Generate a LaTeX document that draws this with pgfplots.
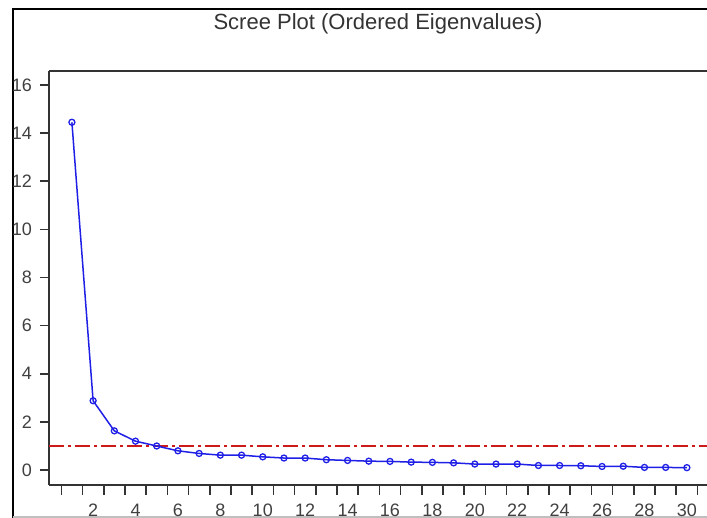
\documentclass[border=0pt]{standalone}
\usepackage{pgfplots}
\pgfplotsset{compat=1.18}
\usepackage{fontspec}
\setmainfont{Liberation Sans}
\definecolor{evBlue}{HTML}{1F1FE6}
\definecolor{evRed}{HTML}{CC1A1A}
\definecolor{axGray}{HTML}{333333}
\definecolor{lblGray}{HTML}{404040}

\begin{document}
\begin{tikzpicture}[x=0.5pt,y=0.5pt]
  \useasboundingbox (0,0) rectangle (707,518);
  % window frame
  \draw[line width=0.9pt, black] (13,0) -- (13,509) -- (707,509);
  \draw[line width=0.6pt, black!25] (13,1) -- (707,1);
  \begin{axis}[
    at={(49pt*0.5,33pt*0.5)}, anchor=south west,
    width=329pt, height=207pt, scale only axis,
    xmin=-0.08, xmax=30.95, ymin=-0.62, ymax=16.58,
    axis line style={axGray, line width=0.8pt},
    axis x line*=bottom, axis y line*=left,
    tick align=outside, major tick length=4.5pt, minor tick length=5pt,
    tick style={axGray, line width=0.8pt},
    ytick={0,2,...,16},
    xtick={2,4,...,30},
    minor xtick={0.5,1.5,...,30.5},
    major x tick style={draw=none},
    ticklabel style={font=\fontsize{9}{10}\selectfont, text=lblGray},
    /pgf/number format/assume math mode=true,
    xticklabel style={yshift=-1.5pt},
    yticklabel style={xshift=-0.5pt},
    title={Scree Plot (Ordered Eigenvalues)},
    title style={at={(0.5,1)}, anchor=center, yshift=17.5pt,
      font=\fontsize{11}{13}\selectfont, text=black!80},
    clip=false,
  ]
    \addplot[evRed, line width=0.75pt, dash pattern=on 7.5pt off 2pt on 1.5pt off 2pt]
      coordinates {(-0.08,1) (30.95,1)};
    \addplot[evBlue, line width=0.75pt, mark=o, mark size=1.5pt,
      mark options={solid, line width=0.65pt}]
      coordinates {
        (1,14.45) (2,2.88) (3,1.63) (4,1.20) (5,1.00) (6,0.80)
        (7,0.69) (8,0.62) (9,0.62) (10,0.55) (11,0.50) (12,0.50)
        (13,0.43) (14,0.40) (15,0.37) (16,0.36) (17,0.33) (18,0.32)
        (19,0.30) (20,0.25) (21,0.25) (22,0.25) (23,0.19) (24,0.19)
        (25,0.18) (26,0.15) (27,0.16) (28,0.11) (29,0.11) (30,0.10)
      };
    \draw[axGray, line width=0.8pt] (rel axis cs:0,1) -- (rel axis cs:1,1);
  \end{axis}
\end{tikzpicture}
\end{document}
